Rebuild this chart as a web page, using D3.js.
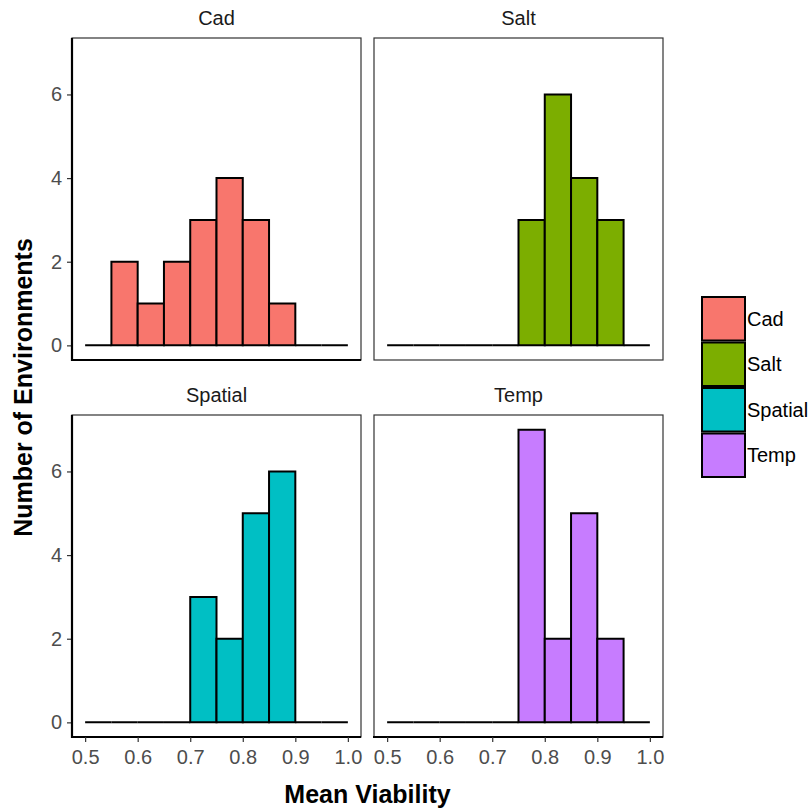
<!DOCTYPE html>
<html>
<head>
<meta charset="utf-8">
<script src="https://cdn.jsdelivr.net/npm/d3@7"></script>
<style>
  body { margin: 0; background: #fff; }
  svg { display: block; font-family: "Liberation Sans", Arial, sans-serif; }
</style>
</head>
<body>
<script>
// histogram bins (left edges, width 0.05)
var binEdges = [0.5, 0.55, 0.6, 0.65, 0.7, 0.75, 0.8, 0.85, 0.9, 0.95];
var binWidth = 0.05;

var facets = ['Cad', 'Salt', 'Spatial', 'Temp'];
var cadCounts     = [0, 2, 1, 2, 3, 4, 3, 1, 0, 0];
var saltCounts    = [0, 0, 0, 0, 0, 3, 6, 4, 3, 0];
var spatialCounts = [0, 0, 0, 0, 3, 2, 5, 6, 0, 0];
var tempCounts    = [0, 0, 0, 0, 0, 7, 2, 5, 2, 0];
var allCounts = [cadCounts, saltCounts, spatialCounts, tempCounts];

var fills = ['#F8766D', '#7CAE00', '#00BFC4', '#C77CFF'];
var xTicks = [0.5, 0.6, 0.7, 0.8, 0.9, 1.0];
var yTicks = [0, 2, 4, 6];

var width = 811, height = 809;
var panelW = 289, panelH = 322;
var colX = [72, 374];
var rowY = [38, 415];
var font = '"Liberation Sans", Arial, sans-serif';

var svg = d3.select('body').append('svg')
    .attr('width', width)
    .attr('height', height);

var x = d3.scaleLinear().domain([0.475, 1.025]).range([0, panelW]);
var y = d3.scaleLinear().domain([-0.35, 7.35]).range([panelH, 0]);

facets.forEach(function(name, i) {
    var col = i % 2, row = Math.floor(i / 2);
    var g = svg.append('g').attr('transform', 'translate(' + colX[col] + ',' + rowY[row] + ')');

    // strip label
    g.append('text')
        .attr('x', panelW / 2)
        .attr('y', -13)
        .attr('text-anchor', 'middle')
        .style('font-size', '20px')
        .style('fill', '#1a1a1a')
        .text(name);

    var bins = binEdges.map(function(b, k) { return { x0: b, n: allCounts[i][k] }; });

    // paths so empty bins still show as a flat line
    g.selectAll('path.bar')
        .data(bins)
        .enter().append('path')
            .attr('class', 'bar')
            .attr('d', function(d) {
                var a = x(d.x0), b = x(d.x0 + binWidth), y0 = y(0), y1 = y(d.n);
                return 'M' + a + ',' + y0 + 'L' + a + ',' + y1 + 'L' + b + ',' + y1 + 'L' + b + ',' + y0 + 'Z';
            })
            .style('fill', fills[i])
            .style('stroke', '#000')
            .style('stroke-width', 2)
            .style('stroke-linejoin', 'miter');

    // panel border
    g.append('rect')
        .attr('x', 0).attr('y', 0)
        .attr('width', panelW).attr('height', panelH)
        .style('fill', 'none')
        .style('stroke', '#333')
        .style('stroke-width', 1.2);

    // y axis on left column
    if (col === 0) {
        var ya = g.append('g').call(d3.axisLeft(y).tickValues(yTicks).tickSize(5).tickPadding(5).tickFormat(d3.format('d')));
        ya.select('.domain').remove();
        ya.selectAll('line').style('stroke', '#333').style('stroke-width', 1.2);
        ya.selectAll('text').style('font-size', '20px').style('fill', '#4d4d4d').style('font-family', font);
        g.append('line').attr('x1', 0).attr('x2', 0).attr('y1', 0).attr('y2', panelH + 1)
            .style('stroke', '#000').style('stroke-width', 2.2);
    }
    if (row === 1 || i === 0) {
        g.append('line').attr('x1', -1).attr('x2', panelW).attr('y1', panelH).attr('y2', panelH)
            .style('stroke', '#000').style('stroke-width', 2.2);
    }
    // x axis on bottom row
    if (row === 1) {
        var xa = g.append('g').attr('transform', 'translate(0,' + panelH + ')')
            .call(d3.axisBottom(x).tickValues(xTicks).tickSize(5).tickPadding(8).tickFormat(d3.format('.1f')));
        xa.select('.domain').remove();
        xa.selectAll('line').style('stroke', '#333').style('stroke-width', 1.2);
        xa.selectAll('text').style('font-size', '20px').style('fill', '#4d4d4d').style('font-family', font);
    }
});

// axis titles
svg.append('text')
    .attr('x', (colX[0] + colX[1] + panelW) / 2)
    .attr('y', 803)
    .attr('text-anchor', 'middle')
    .style('font-size', '25px')
    .style('font-weight', 'bold')
    .text('Mean Viability');

svg.append('text')
    .attr('transform', 'translate(32,' + (rowY[0] + rowY[1] + panelH) / 2 + ') rotate(-90)')
    .attr('text-anchor', 'middle')
    .style('font-size', '25px')
    .style('font-weight', 'bold')
    .text('Number of Environments');

// legend
var legend = svg.append('g').attr('transform', 'translate(702,297)');
var keyH = 43.5, keyGap = 2;
var items = legend.selectAll('g')
    .data(facets)
    .enter().append('g')
        .attr('transform', function(d, k) { return 'translate(0,' + k * (keyH + keyGap) + ')'; });
items.append('rect')
    .attr('width', 43).attr('height', keyH)
    .style('fill', function(d, k) { return fills[k]; })
    .style('stroke', '#000').style('stroke-width', 2);
items.append('text')
    .attr('x', 45).attr('y', keyH / 2 + 7)
    .style('font-size', '20px')
    .style('fill', '#000')
    .text(function(d) { return d; });
</script>
</body>
</html>
